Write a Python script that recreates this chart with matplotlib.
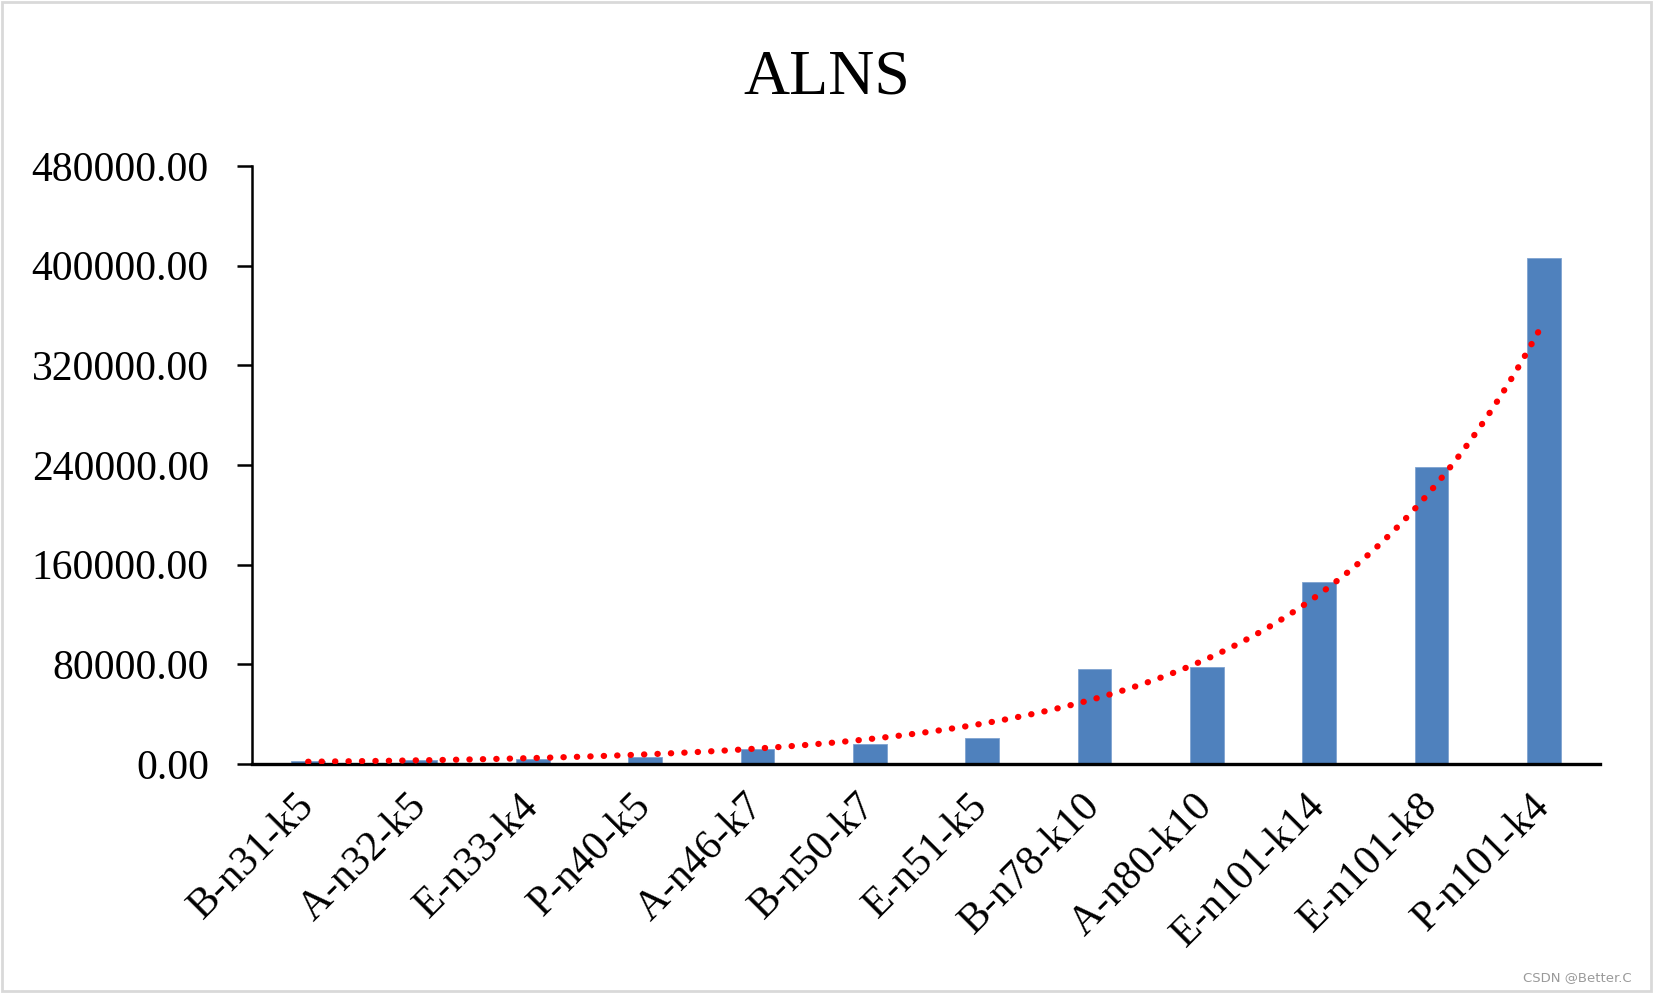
import numpy as np
import matplotlib
matplotlib.use("Agg")
import matplotlib.pyplot as plt
from matplotlib.patches import Rectangle

# dane
instances = ["B-n31-k5", "A-n32-k5", "E-n33-k4", "P-n40-k5", "A-n46-k7", "B-n50-k7",
             "E-n51-k5", "B-n78-k10", "A-n80-k10", "E-n101-k14", "E-n101-k8", "P-n101-k4"]
alns_time = [2700, 3400, 4200, 5800, 12000, 16000,
             21000, 76000, 77500, 146000, 238000, 406000]
y_ticks = [0, 80000, 160000, 240000, 320000, 400000, 480000]


def main():
    plt.rcParams['font.family'] = ['Liberation Serif', 'TeX Gyre Termes', 'FreeSerif', 'DejaVu Serif']

    fig = plt.figure(figsize=(16.53, 9.93), dpi=100)
    ax = fig.add_axes([252 / 1653, 1 - 764 / 993, (1600 - 252) / 1653, (764 - 166) / 993])

    x = np.arange(len(instances))
    ax.bar(x, alns_time, width=0.3, color="#4F81BD", edgecolor="#7FA3D0", linewidth=0.6, zorder=2)

    # linia trendu wykładniczego (jak w Excelu: dopasowanie ln(y))
    xs = x + 1
    b, a = np.polyfit(xs, np.log(alns_time), 1)
    xt = np.linspace(1, len(instances), 400)
    ax.plot(xt - 1, np.exp(a + b * xt), color="red", linewidth=4.5,
            linestyle=(0, (0.05, 2.1)), dash_capstyle="round", zorder=3)

    ax.set_xlim(-0.5, len(instances) - 0.5)
    ax.set_ylim(0, 480000)
    ax.set_yticks(y_ticks)
    ax.set_yticklabels([f"{v:.2f}" for v in y_ticks], fontsize=30)
    ax.set_xticks(x)
    ax.set_xticklabels(instances, fontsize=30, rotation=45, ha="right", va="center",
                       rotation_mode="anchor")

    ax.tick_params(axis="y", length=11, width=1.8, pad=20)
    ax.tick_params(axis="x", length=0, pad=26)
    for side in ["top", "right"]:
        ax.spines[side].set_visible(False)
    ax.spines["left"].set_linewidth(1.8)
    ax.spines["bottom"].set_linewidth(2.4)

    fig.text(0.5, 1 - 78 / 993, "ALNS", fontsize=46, ha="center", va="center")

    # znak wodny i ramka
    fig.text(1632 / 1653, 1 - 978 / 993, "CSDN @Better.C", fontsize=9.5, color="#9a9a9a",
             ha="right", va="center", family=["DejaVu Sans"])
    fig.patches.append(Rectangle((0.001, 0.002), 0.998, 0.996, transform=fig.transFigure,
                                 fill=False, edgecolor="#d9d9d9", linewidth=2))

    fig.savefig("out.png", dpi=100)


if __name__ == "__main__":
    main()
